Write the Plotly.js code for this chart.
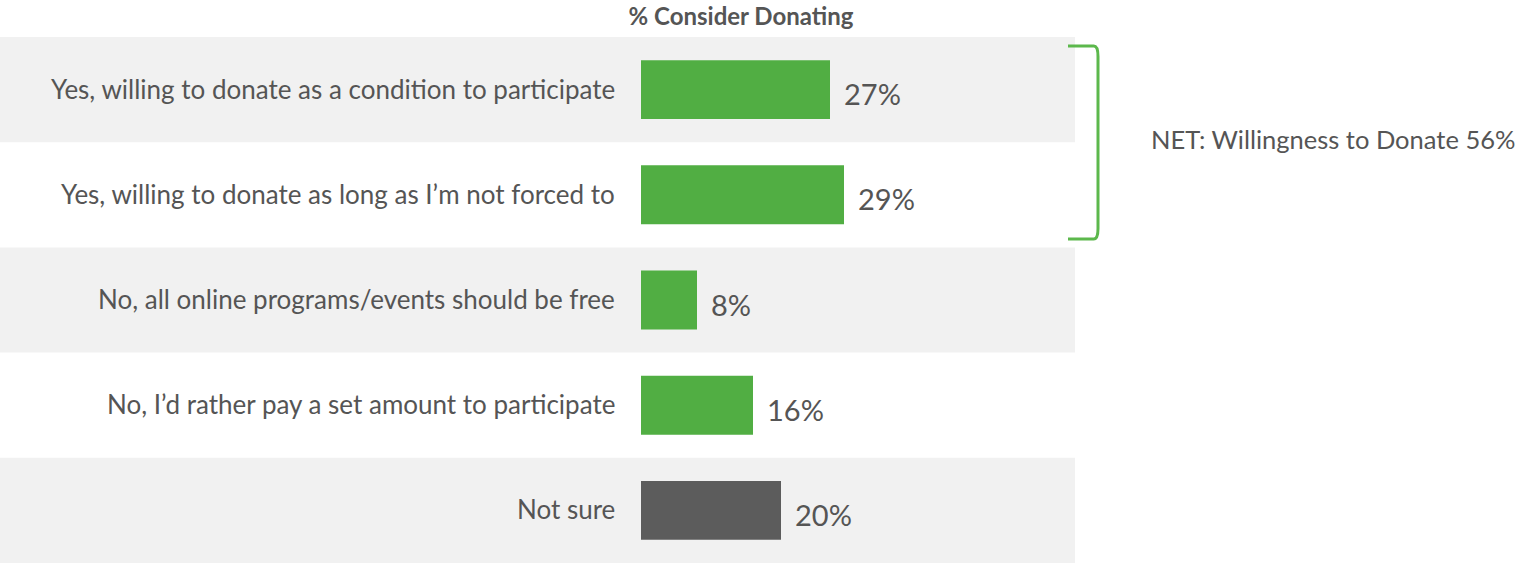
<!DOCTYPE html>
<html>
<head>
<meta charset="utf-8">
<script src="https://cdn.plot.ly/plotly-3.0.1.min.js"></script>
<style>html,body{margin:0;padding:0;background:#fff;}#chart{width:1520px;height:563px;}</style>
</head>
<body>
<div id="chart"></div>
<script>
const categories = [
  "Yes, willing to donate as a condition to participate",
  "Yes, willing to donate as long as I\u2019m not forced to",
  "No, all online programs/events should be free",
  "No, I\u2019d rather pay a set amount to participate",
  "Not sure"
];
const values = [27, 29, 8, 16, 20];
const barColors = ["#51ae43", "#51ae43", "#51ae43", "#51ae43", "#5c5c5c"];
const valueLabels = ["27%", "29%", "8%", "16%", "20%"];
const chartTitle = "% Consider Donating";
const netLabel = "NET: Willingness to Donate 56%";
const netGroup = [0, 1];

const FONT = "Lato, 'Open Sans', sans-serif";
const TXT = "#555555";

// pixel layout: plot area starts at x=0, bars start at 641px, 7px per percent
const W = 1520, BAR0 = 641, PXPER = 7;
const xmin = -BAR0 / PXPER, xmax = (W - BAR0) / PXPER;
const bandRight = (1075 - BAR0) / PXPER;

const shapes = [];
categories.forEach((c, i) => {
  if (i % 2 === 0) {
    shapes.push({type: "rect", xref: "x", yref: "y", x0: xmin, x1: bandRight,
      y0: i - 0.5, y1: i + 0.5, fillcolor: "#f1f1f1", line: {width: 0}, layer: "below"});
  }
});
// bracket around the NET group
const ya = netGroup[0] - 0.415, yb = netGroup[netGroup.length - 1] + 0.42;
const bx0 = (1068 - BAR0) / PXPER, bx1 = (1098 - BAR0) / PXPER;
const r = 0.6, ry = 0.1;
shapes.push({type: "path", xref: "x", yref: "y",
  path: `M ${bx0},${ya} L ${bx1 - r},${ya} Q ${bx1},${ya} ${bx1},${ya + ry} L ${bx1},${yb - ry} Q ${bx1},${yb} ${bx1 - r},${yb} L ${bx0},${yb}`,
  line: {color: "#5cb84c", width: 3}});

const annotations = [];
categories.forEach((c, i) => {
  annotations.push({x: -24 / PXPER, y: c, xref: "x", yref: "y", text: c, showarrow: false,
    xanchor: "right", yanchor: "middle", yshift: 1,
    font: {family: FONT, size: 26, color: TXT}});
  annotations.push({x: values[i], y: c, xref: "x", yref: "y", text: valueLabels[i], showarrow: false,
    xanchor: "left", yanchor: "middle", xshift: 12, yshift: -4,
    font: {family: FONT, size: 29, color: TXT}});
});
annotations.push({x: (1517 - BAR0) / PXPER, y: (netGroup[0] + netGroup[1]) / 2, xref: "x", yref: "y",
  text: netLabel, showarrow: false, xanchor: "right", yanchor: "middle", yshift: 3,
  font: {family: FONT, size: 25.5, color: TXT}});

const trace = {
  type: "bar", orientation: "h", x: values, y: categories,
  marker: {color: barColors}, width: 0.56, hoverinfo: "none"
};

const layout = {
  width: W, height: 563,
  margin: {l: 0, r: 0, t: 37, b: 0, pad: 0},
  paper_bgcolor: "#ffffff", plot_bgcolor: "rgba(0,0,0,0)",
  title: {text: "<b>" + chartTitle + "</b>", x: 741 / W, xref: "container", xanchor: "center",
    y: 1 - 17 / 563, yref: "container", yanchor: "middle",
    font: {family: FONT, size: 24, color: TXT}},
  xaxis: {range: [xmin, xmax], visible: false, fixedrange: true},
  yaxis: {type: "category", autorange: false, range: [categories.length - 0.5, -0.5],
    visible: false, fixedrange: true},
  shapes: shapes, annotations: annotations, showlegend: false
};

Plotly.newPlot("chart", [trace], layout, {displayModeBar: false, staticPlot: true});
</script>
</body>
</html>
